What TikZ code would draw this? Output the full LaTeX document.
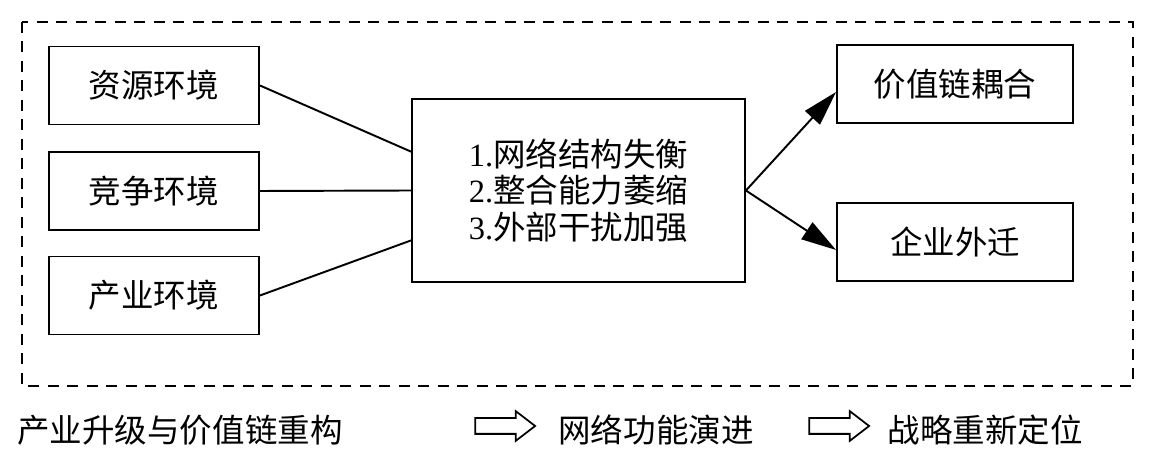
\documentclass[tikz,border=0pt]{standalone}
\usepackage{fontspec}
\setmainfont{Liberation Serif}
\newfontfamily\cjk{Noto Sans CJK SC}
\usetikzlibrary{arrows.meta,calc,shapes.arrows}

\begin{document}
\begin{tikzpicture}[
        x=0.02cm, y=-0.02cm,
        every node/.style={font=\fontsize{18.5}{21}\selectfont\cjk},
        box/.style={draw,line width=1.1pt,minimum height=1.56cm,inner sep=0pt},
        envbox/.style={box,minimum width=4.2cm},
        outbox/.style={box,minimum width=4.72cm},
        link/.style={line width=1.1pt},
        flow/.style={line width=1.1pt,-{Triangle[length=0.7cm,width=0.4cm]}},
        hollow/.style={single arrow,draw,line width=1pt,inner sep=0pt,
            minimum height=1.2cm,
            single arrow head extend=0.14cm,single arrow tip angle=75}
    ]

    \useasboundingbox (0,0) rectangle (1174,465);
    \draw[line width=1.1pt,dash pattern=on 0.22cm off 0.17cm] (22,22) rectangle (1133,386);

    % left column
    \node[envbox] (res) at (154,85.5) {资源环境};
    \node[envbox] (comp) at (154,191) {竞争环境};
    \node[envbox] (ind) at (154,295.5) {产业环境};

    % middle
    \node[box,minimum width=6.66cm,minimum height=3.66cm,align=center] (mid) at (578.5,190.5)
        {{\rmfamily 1.}网络结构失衡\\{\rmfamily 2.}整合能力萎缩\\{\rmfamily 3.}外部干扰加强};

    % right column
    \node[outbox] (chain) at (955,84) {价值链耦合};
    \node[outbox] (move) at (955,242) {企业外迁};

    \draw[link] (res.east) -- ($(mid.north west)!0.29!(mid.south west)$);
    \draw[link] (comp.east) -- (mid.west);
    \draw[link] (ind.east) -- ($(mid.north west)!0.77!(mid.south west)$);
    \draw[flow] (mid.east) -- ($(chain.north west)!0.6!(chain.south west)$);
    \draw[flow] (mid.east) -- ($(move.north west)!0.6!(move.south west)$);

    % bottom line
    \node (stage1) at (180,430) {产业升级与价值链重构};
    \node[hollow] (a1) at (500,426) {\rule{0pt}{0.28cm}};
    \node (stage2) at (656,430) {网络功能演进};
    \node[hollow] (a2) at (834,426) {\rule{0pt}{0.28cm}};
    \node (stage3) at (985,430) {战略重新定位};

\end{tikzpicture}
\end{document}
